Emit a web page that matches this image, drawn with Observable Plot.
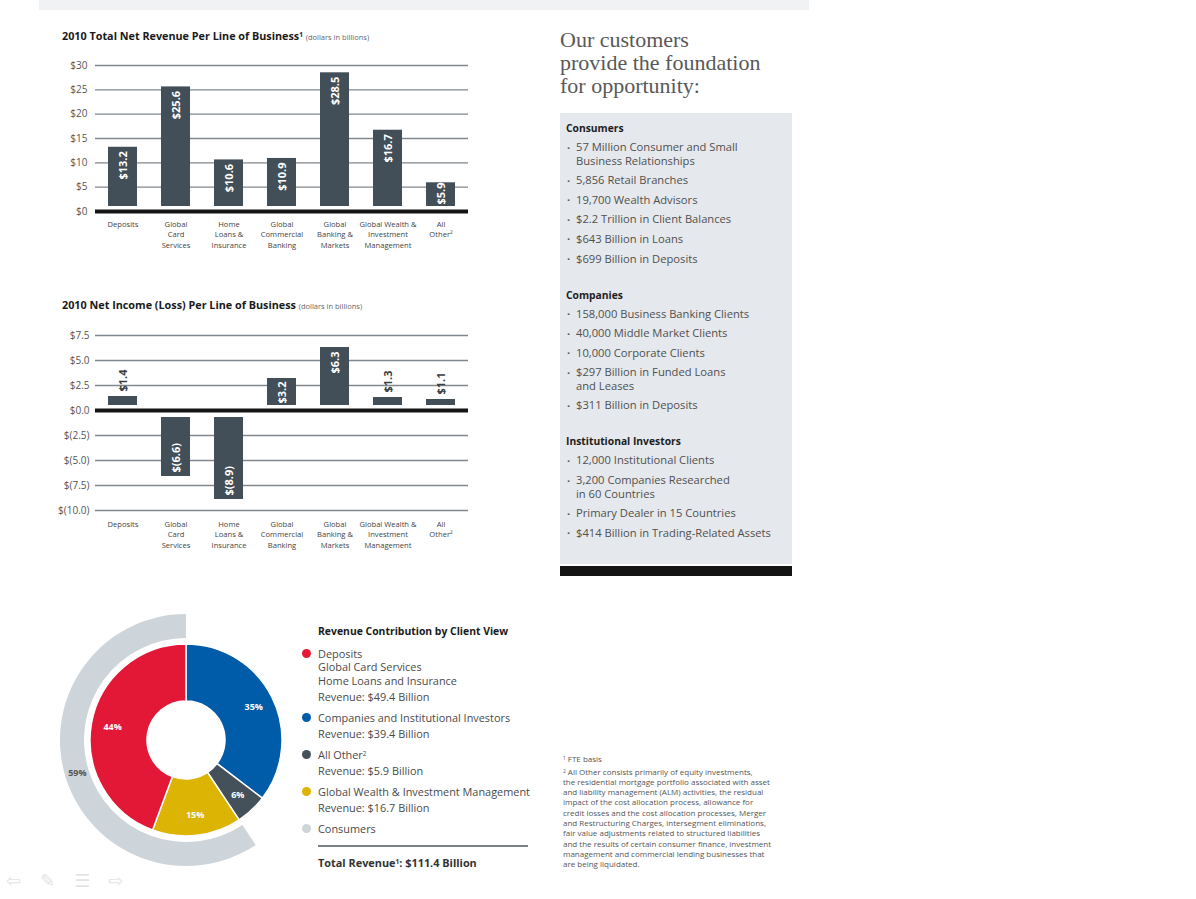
<!DOCTYPE html>
<html><head><meta charset="utf-8">
<script src="https://cdn.jsdelivr.net/npm/d3@7"></script>
<script src="https://cdn.jsdelivr.net/npm/@observablehq/plot@0.6"></script>
<style>
body{margin:0;background:#fff;}
#page{position:relative;width:1196px;height:899px;overflow:hidden;font-family:"Open Sans",Roboto,sans-serif;color:#444;}
.abs{position:absolute;white-space:nowrap;}
sup{font-size:0.6em;vertical-align:0.45em;line-height:0;}
</style></head><body><div id="page"></div>
<script>
// ---------- data ----------
const categories = ["Deposits","Global Card Services","Home Loans & Insurance","Global Commercial Banking","Global Banking & Markets","Global Wealth & Investment Management","All Other"];
const categoryLabels = ["Deposits","Global\nCard\nServices","Home\nLoans &\nInsurance","Global\nCommercial\nBanking","Global\nBanking &\nMarkets","Global Wealth &\nInvestment\nManagement","All\nOther²"];
const revenue = [13.2,25.6,10.6,10.9,28.5,16.7,5.9];
const netIncome = [1.4,-6.6,-8.9,3.2,6.3,1.3,1.1];
const revenueTicks = [0,5,10,15,20,25,30];
const incomeTicks = [-10,-7.5,-5,-2.5,0,2.5,5,7.5];

const clientViews = ["Companies and Institutional Investors","All Other","Global Wealth & Investment Management","Deposits"];
const clientRevenue = [39.4,5.9,16.7,49.4];
const clientPct = ["35%","6%","15%","44%"];
const clientColors = ["#005ca8","#45515a","#dbb404","#e31837"];
const consumersGroup = ["Global Wealth & Investment Management","Deposits"];
const consumersPct = "59%";
const consumersColor = "#cdd4da";

const legendItems = [
  {view:"Deposits", lines:["Deposits","Global Card Services","Home Loans and Insurance"], revenue:49.4},
  {view:"Companies and Institutional Investors", lines:["Companies and Institutional Investors"], revenue:39.4},
  {view:"All Other", lines:["All Other<sup>2</sup>"], revenue:5.9},
  {view:"Global Wealth & Investment Management", lines:["Global Wealth &amp; Investment Management"], revenue:16.7},
  {view:"Consumers", lines:["Consumers"], revenue:null}
];
const totalRevenue = 111.4;

const panelTitle = ["Our customers","provide the foundation","for opportunity:"];
const panelSections = [
  {title:"Consumers", items:["57 Million Consumer and Small\nBusiness Relationships","5,856 Retail Branches","19,700 Wealth Advisors","$2.2 Trillion in Client Balances","$643 Billion in Loans","$699 Billion in Deposits"]},
  {title:"Companies", items:["158,000 Business Banking Clients","40,000 Middle Market Clients","10,000 Corporate Clients","$297 Billion in Funded Loans\nand Leases","$311 Billion in Deposits"]},
  {title:"Institutional Investors", items:["12,000 Institutional Clients","3,200 Companies Researched\nin 60 Countries","Primary Dealer in 15 Countries","$414 Billion in Trading-Related Assets"]}
];
const footnotes = ["<sup>1</sup> FTE basis",
 "<sup>2</sup> All Other consists primarily of equity investments,",
 "the residential mortgage portfolio associated with asset",
 "and liability management (ALM) activities, the residual",
 "impact of the cost allocation process, allowance for",
 "credit losses and the cost allocation processes, Merger",
 "and Restructuring Charges, intersegment eliminations,",
 "fair value adjustments related to structured liabilities",
 "and the results of certain consumer finance, investment",
 "management and commercial lending businesses that",
 "are being liquidated."];

// ---------- helpers ----------
const FONT = '"Open Sans", Roboto, sans-serif';
const page = document.getElementById("page");
function el(html, x, y, css={}) {
  const d = document.createElement("div");
  d.className = "abs"; d.innerHTML = html;
  d.style.left = x + "px"; d.style.top = y + "px";
  Object.assign(d.style, css); page.appendChild(d); return d;
}
function centered(html, x, cy, size, css={}) {
  const lh = Math.round(size * 1.4);
  return el(html, x, cy - lh/2, Object.assign({fontSize: size + "px", lineHeight: lh + "px"}, css));
}

// top strip
el("", 39, 0, {width:"770px", height:"10px", background:"#f1f2f4"});

// ---------- bar charts ----------
const barFill = "#434f58";
function barChart({values, ticks, tickFormat, domain, height, marginBottom, labelDy, tickDx, insetPos, insetNeg, shortBar}) {
  const data = categories.map((c,i) => ({c, label: categoryLabels[i], v: values[i]}));
  const fmt = d => d.v < 0 ? "$(" + Math.abs(d.v).toFixed(1) + ")" : "$" + d.v.toFixed(1);
  const insideTop = data.filter(d => d.v >= shortBar);
  const insideBottom = data.filter(d => d.v >= 2 && d.v < shortBar);
  const above = data.filter(d => d.v > 0 && d.v < 2);
  const below = data.filter(d => d.v < 0);
  const lbl = {text: fmt, rotate: -90, fontWeight: "bold", fontSize: 11, fontFamily: FONT};
  return Plot.plot({
    width: 440, height, marginLeft: 55, marginRight: 12, marginTop: 15, marginBottom,
    style: {fontFamily: FONT, background: "transparent", overflow: "visible"},
    x: {domain: categories, paddingInner: 0.45, paddingOuter: 0.225, axis: null},
    y: {domain, axis: null},
    marks: [
      Plot.ruleY(ticks.filter(t => t !== 0), {stroke: "#80878d", strokeWidth: 1.4}),
      Plot.text(ticks, {y: d => d, frameAnchor: "left", textAnchor: "end", dx: tickDx, text: tickFormat, fontSize: 10, fill: "#555"}),
      Plot.barY(data.filter(d => d.v > 0), {x: "c", y: "v", fill: barFill, insetBottom: insetPos}),
      Plot.barY(below, {x: "c", y: "v", fill: barFill, insetTop: insetNeg}),
      Plot.ruleY([0], {stroke: "#151515", strokeWidth: 4}),
      Plot.text(insideTop, {x: "c", y: "v", textAnchor: "end", dy: 4, fill: "white", ...lbl}),
      Plot.text(insideBottom, {x: "c", y: () => 0, textAnchor: "start", dy: -7, fill: "white", ...lbl}),
      Plot.text(above, {x: "c", y: "v", textAnchor: "start", dy: -5, fill: "#363d44", ...lbl}),
      Plot.text(below, {x: "c", y: "v", textAnchor: "start", dy: -4, fill: "white", ...lbl}),
      Plot.text(data, {x: "c", text: "label", frameAnchor: "bottom", lineAnchor: "top", dy: labelDy, fontSize: 7.6, lineHeight: 1.34, fill: "#444"})
    ]
  });
}

el('<b>2010 Total Net Revenue Per Line of Business<sup>1</sup></b> <span style="font-size:7.5px;color:#666">(dollars in billions)</span>', 62, 29, {fontSize:"10.8px", color:"#1a1a1a", lineHeight:"14px"});
const c1 = barChart({values: revenue, ticks: revenueTicks, tickFormat: d => "$" + d, domain: [0, 30], height: 205, marginBottom: 44, labelDy: 8.5, tickDx: -8, insetPos: 5, insetNeg: 6, shortBar: 8});
const w1 = el("", 40, 50); w1.appendChild(c1);

el('<b>2010 Net Income (Loss) Per Line of Business</b> <span style="font-size:7.5px;color:#666">(dollars in billions)</span>', 62, 298, {fontSize:"10.8px", color:"#1a1a1a", lineHeight:"14px"});
const c2 = barChart({values: netIncome, ticks: incomeTicks, tickFormat: d => d < 0 ? "$(" + Math.abs(d).toFixed(1) + ")" : "$" + d.toFixed(1), domain: [-10, 7.5], height: 235, marginBottom: 45, labelDy: 9.5, tickDx: -6, insetPos: 5, insetNeg: 7, shortBar: 4});
const w2 = el("", 40, 320); w2.appendChild(c2);

// ---------- donut ----------
const pieData = d3.pie().sort(null).value(d => d.v)(clientViews.map((name, i) => ({name, v: clientRevenue[i], pct: clientPct[i]})));
const consumersStart = d3.min(pieData.filter(p => consumersGroup.includes(p.data.name)), p => p.startAngle);
const consumersEnd = d3.max(pieData.filter(p => consumersGroup.includes(p.data.name)), p => p.endAngle);
const color = Plot.scale({color: {domain: clientViews, range: clientColors}});
const R = {hole: 39, outer: 96, ringIn: 102, ringOut: 126, label: 75, ringLabel: 114};

function donutMark(index, scales) {
  const cx = scales.x(0), cy = scales.y(0), k = scales.x(1) - scales.x(0);
  const g = d3.create("svg:g").attr("transform", `translate(${cx},${cy})`);
  g.append("path").attr("fill", consumersColor)
    .attr("d", d3.arc()({innerRadius: R.ringIn * k, outerRadius: R.ringOut * k, startAngle: consumersStart, endAngle: consumersEnd}));
  g.selectAll("path.s").data(pieData).join("path").attr("class", "s")
    .attr("fill", p => color.apply(p.data.name)).attr("stroke", "white").attr("stroke-width", 1.5)
    .attr("d", d3.arc().innerRadius(R.hole * k).outerRadius(R.outer * k));
  return g.node();
}
const mid = p => (p.startAngle + p.endAngle) / 2;
const ringMid = (consumersStart + consumersEnd) / 2;
const donut = Plot.plot({
  width: 280, height: 280, margin: 0,
  style: {fontFamily: FONT, background: "transparent", overflow: "visible"},
  x: {domain: [-140, 140], axis: null}, y: {domain: [-140, 140], axis: null},
  marks: [
    donutMark,
    Plot.text(pieData, {x: p => R.label * Math.sin(mid(p)), y: p => R.label * Math.cos(mid(p)), text: p => p.data.pct, fill: "white", fontWeight: "bold", fontSize: 9}),
    Plot.text([consumersPct], {x: () => R.ringLabel * Math.sin(ringMid), y: () => R.ringLabel * Math.cos(ringMid), text: d => d, fill: "#555", fontWeight: "bold", fontSize: 9})
  ]
});
const wd = el("", 46, 600); wd.appendChild(donut);

// ---------- legend ----------
el("<b>Revenue Contribution by Client View</b>", 318, 624, {fontSize:"10.4px", color:"#1a1a1a", lineHeight:"14px"});
const legendColor = v => v === "Consumers" ? consumersColor : color.apply(v);
let ly = 653;
legendItems.forEach((it, i) => {
  if (i > 0) ly += 21;
  el("", 302, ly - 4.5, {width:"9px", height:"9px", borderRadius:"50%", background: legendColor(it.view)});
  it.lines.forEach((ln, j) => { if (j > 0) ly += 13.5; centered(ln, 318, ly, 10.9, {color:"#4a4a4a"}); });
  if (it.revenue != null) { ly += 16; centered("Revenue: $" + it.revenue + " Billion", 318, ly, 10.9, {color:"#4a4a4a"}); }
});
el("", 318, 845, {width:"210px", height:"1.5px", background:"#7a8086"});
centered("<b>Total Revenue<sup>1</sup>: $" + totalRevenue + " Billion</b>", 318, 862, 10.9, {color:"#333"});

// ---------- right panel ----------
panelTitle.forEach((t, i) => el(t, 560, 40 + i * 23 - 14, {fontFamily:'"Liberation Serif", "DejaVu Serif", serif', fontSize:"22px", lineHeight:"28px", color:"#585858"}));
el("", 560, 113, {width:"232px", height:"451px", background:"#e5e8ec"});
el("", 560, 566, {width:"232px", height:"10px", background:"#141414"});
let py = 128;
panelSections.forEach((s, si) => {
  if (si > 0) py += 36;
  centered("<b>" + s.title + "</b>", 566, py, 10.3, {color:"#1e1e1e"});
  py += 19;
  s.items.forEach((item, ii) => {
    if (ii > 0) py += 19.6;
    centered("·", 567, py, 11, {color:"#555", fontWeight:"bold"});
    item.split("\n").forEach((ln, j) => { if (j > 0) py += 13.5; centered(ln, 576, py, 11.2, {color:"#505050"}); });
  });
});

// ---------- footnotes ----------
footnotes.forEach((t, i) => centered(t, 563, i === 0 ? 758 : 771 + (i - 1) * 10.3, 8, {color:"#555"}));

// ---------- nav glyphs ----------
["⇦","✎","☰","⇨"].forEach((g, i) => centered(g, 6 + i * 34, 880, 18, {color:"#e4e4e4", fontFamily:"DejaVu Sans"}));
</script></body></html>
